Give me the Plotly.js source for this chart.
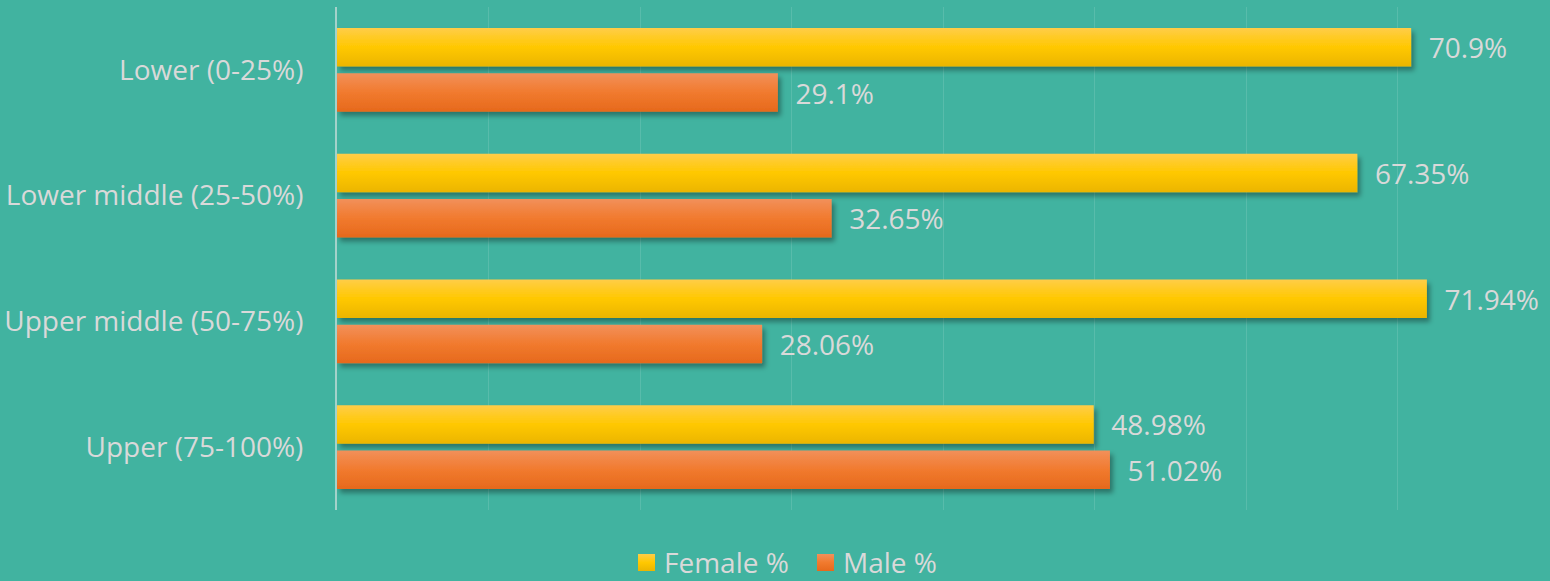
<!DOCTYPE html>
<html>
<head>
<meta charset="utf-8">
<script src="https://cdn.plot.ly/plotly-3.0.1.min.js"></script>
<style>
  html, body { margin: 0; padding: 0; background: #41B3A0; }
  #chart { width: 1550px; height: 581px; }
  #defsHolder { position: absolute; width: 0; height: 0; overflow: hidden; left: 0; top: 0; }
  #chart .barlayer .trace.bars:nth-child(1) .point path { fill: url(#gradF) !important; filter: url(#barShadow) !important; }
  #chart .barlayer .trace.bars:nth-child(2) .point path { fill: url(#gradM) !important; filter: url(#barShadow) !important; }
  #chart .legend .traces:nth-child(1) .legendpoints path { fill: url(#gradF) !important; }
  #chart .legend .traces:nth-child(2) .legendpoints path { fill: url(#gradM) !important; }
</style>
</head>
<body>
<svg id="defsHolder" xmlns="http://www.w3.org/2000/svg" width="0" height="0">
  <defs>
    <linearGradient id="gradF" x1="0" y1="0" x2="0" y2="1">
      <stop offset="0" stop-color="#FFCD48"/>
      <stop offset="0.5" stop-color="#FFC800"/>
      <stop offset="1" stop-color="#EBB500"/>
    </linearGradient>
    <linearGradient id="gradM" x1="0" y1="0" x2="0" y2="1">
      <stop offset="0" stop-color="#F2905A"/>
      <stop offset="0.5" stop-color="#F17A2E"/>
      <stop offset="1" stop-color="#E6691C"/>
    </linearGradient>
    <filter id="barShadow" x="-5%" y="-30%" width="115%" height="180%">
      <feDropShadow dx="3" dy="4" stdDeviation="2.5" flood-color="#000" flood-opacity="0.35"/>
    </filter>
  </defs>
</svg>
<div id="chart"></div>
<script>
const categories = ["Lower (0-25%)", "Lower middle (25-50%)", "Upper middle (50-75%)", "Upper (75-100%)"];
// bar lengths as drawn in the picture
const femaleValues = [70.9, 67.35, 71.94, 49.95];
const maleValues = [29.1, 32.65, 28.06, 51.02];
// labels as printed in the picture
const femaleLabels = ["70.9%", "67.35%", "71.94%", "48.98%"];
const maleLabels = ["29.1%", "32.65%", "28.06%", "51.02%"];
const seriesNames = ["Female %", "Male %"];

const textFont = { family: "Open Sans, sans-serif", size: 28, color: "#D9D9D9" };
const NB = "\u00a0\u00a0";

const traces = [
  {
    type: "bar", orientation: "h", name: seriesNames[0],
    y: categories, x: femaleValues,
    marker: { color: "#FFC800" },
    text: femaleLabels.map(function (s) { return NB + s; }), textposition: "outside",
    textfont: textFont, constraintext: "none", cliponaxis: false,
    hoverinfo: "x+y"
  },
  {
    type: "bar", orientation: "h", name: seriesNames[1],
    y: categories, x: maleValues,
    marker: { color: "#F07A2E" },
    text: maleLabels.map(function (s) { return NB + s; }), textposition: "outside",
    textfont: textFont, constraintext: "none", cliponaxis: false,
    hoverinfo: "x+y"
  }
];

const layout = {
  width: 1550, height: 581,
  paper_bgcolor: "#41B3A0", plot_bgcolor: "#41B3A0",
  margin: { l: 337, r: 1, t: 7, b: 71, autoexpand: false },
  font: textFont,
  barmode: "group", bargap: 0.28, bargroupgap: 0.15,
  xaxis: {
    range: [0, 80], autorange: false, dtick: 10, showticklabels: false,
    showgrid: true, gridcolor: "rgba(255,255,255,0.12)", gridwidth: 1,
    zeroline: false, showline: false, fixedrange: true, automargin: false
  },
  yaxis: {
    autorange: "reversed", type: "category", automargin: false,
    showline: true, linecolor: "rgba(230,230,230,0.6)", linewidth: 2,
    showgrid: false, ticks: "", ticklabelstandoff: 26,
    tickfont: textFont, fixedrange: true
  },
  showlegend: true,
  legend: {
    orientation: "h", x: 0.2368, xanchor: "left",
    y: -0.105, yanchor: "middle", font: textFont,
    entrywidth: 134, entrywidthmode: "pixels",
    bgcolor: "rgba(0,0,0,0)", traceorder: "normal", itemclick: false
  }
};

function adjustLegend(gd) {
  gd.querySelectorAll(".legend .traces .legendpoints path").forEach(function (p) {
    p.setAttribute("d", "M11,8.5H-6V-8.5H11Z");
  });
}

Plotly.newPlot("chart", traces, layout, { displayModeBar: false, staticPlot: true }).then(function (gd) {
  adjustLegend(gd);
  gd.on("plotly_afterplot", function () { adjustLegend(gd); });
});
</script>
</body>
</html>
